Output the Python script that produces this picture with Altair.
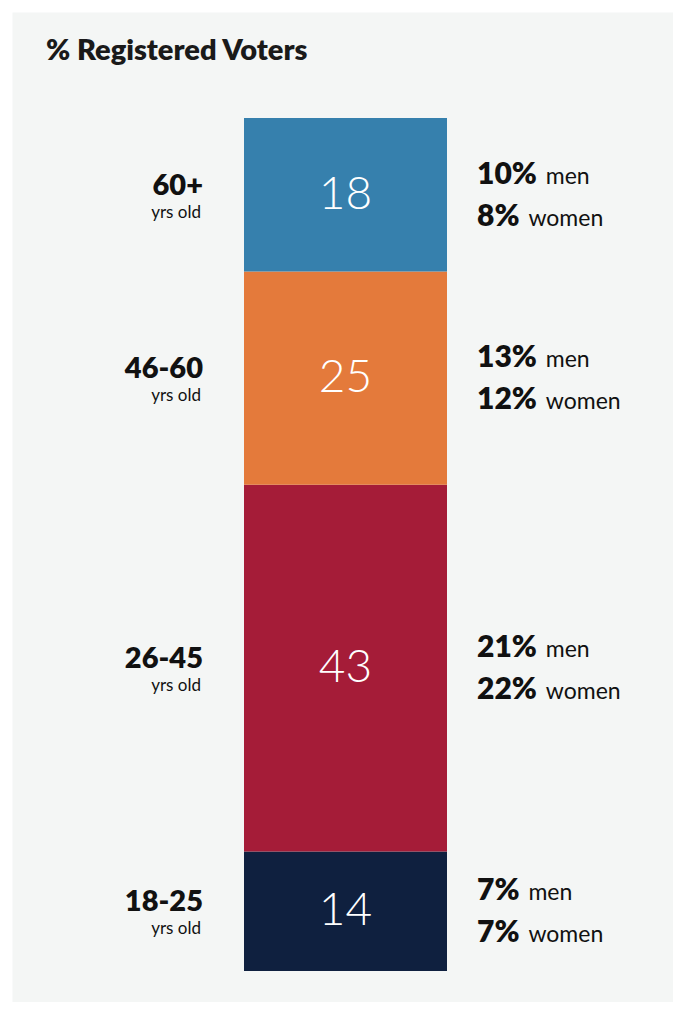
import altair as alt
import pandas as pd

title_text = "% Registered Voters"
ages = ["18-25", "26-45", "46-60", "60+"]
shares = [14, 43, 25, 18]
men = [7, 21, 13, 10]
women = [7, 22, 12, 8]
colors = ["#0f203f", "#a51c38", "#e47a3b", "#3680ad"]

df = pd.DataFrame({
    "age": ages,
    "share": shares,
    "men": men,
    "women": women,
    "order": list(range(len(ages))),
})

FONT = "Lato"
ink = "#111111"

base = alt.Chart(df).transform_window(
    cum="sum(share)", sort=[alt.SortField("order", order="ascending")]
).transform_calculate(
    lo="datum.cum - datum.share",
    mid="datum.cum - datum.share / 2",
    men_pct="datum.men + '%'",
    women_pct="datum.women + '%'",
    men_x="465 + 17.4 * length(toString(datum.men)) + 34",
    women_x="465 + 17.4 * length(toString(datum.women)) + 34",
)

yscale = alt.Scale(domain=[0, 100], range=[959, 106])

bars = base.mark_rect().encode(
    x=alt.value(232),
    x2=alt.value(435),
    y=alt.Y("lo:Q", scale=yscale, axis=None),
    y2="cum:Q",
    color=alt.Color("age:N", scale=alt.Scale(domain=ages, range=colors), legend=None),
)

nums = base.mark_text(font=FONT, fontSize=46, fontWeight=300, color="white",
                      align="center", baseline="middle").encode(
    x=alt.value(333.5),
    y=alt.Y("mid:Q", scale=yscale, axis=None),
    text="share:Q",
)

age_lbl = base.mark_text(font=FONT, fontSize=29, fontWeight=800, color=ink,
                         align="right", baseline="alphabetic").encode(
    x=alt.value(191),
    y=alt.Y("mid:Q", scale=yscale, axis=None),
    text="age:N",
)

yrs_lbl = base.mark_text(font=FONT, fontSize=17, color=ink, align="right",
                         baseline="alphabetic", dy=23).encode(
    x=alt.value(189),
    y=alt.Y("mid:Q", scale=yscale, axis=None),
    text=alt.value("yrs old"),
)

men_pct = base.mark_text(font=FONT, fontSize=30, fontWeight=800, color=ink,
                         align="left", baseline="alphabetic", dy=-11).encode(
    x=alt.value(465),
    y=alt.Y("mid:Q", scale=yscale, axis=None),
    text="men_pct:N",
)
men_word = base.mark_text(font=FONT, fontSize=23, color=ink,
                          align="left", baseline="alphabetic", dy=-11).encode(
    x=alt.X("men_x:Q", scale=None),
    y=alt.Y("mid:Q", scale=yscale, axis=None),
    text=alt.value("men"),
)
women_pct = base.mark_text(font=FONT, fontSize=30, fontWeight=800, color=ink,
                           align="left", baseline="alphabetic", dy=31).encode(
    x=alt.value(465),
    y=alt.Y("mid:Q", scale=yscale, axis=None),
    text="women_pct:N",
)
women_word = base.mark_text(font=FONT, fontSize=23, color=ink,
                            align="left", baseline="alphabetic", dy=31).encode(
    x=alt.X("women_x:Q", scale=None),
    y=alt.Y("mid:Q", scale=yscale, axis=None),
    text=alt.value("women"),
)

title = alt.Chart(alt.Data(values=[{"t": title_text}])).mark_text(
    font=FONT, fontSize=29, fontWeight=800, color="#1a1a1a",
    align="left", baseline="alphabetic").encode(
    x=alt.value(34),
    y=alt.value(48),
    text="t:N",
)

chart = alt.layer(bars, nums, age_lbl, yrs_lbl, men_pct, men_word,
                  women_pct, women_word, title).properties(
    width=661, height=990,
    padding={"left": 4, "top": 4, "right": 0, "bottom": 0},
    autosize=alt.AutoSizeParams(type="none"),
    background="white",
).configure_view(fill="#f4f6f5", stroke="transparent")

chart.save("out.html", embed_options={"renderer": "svg", "actions": False})
